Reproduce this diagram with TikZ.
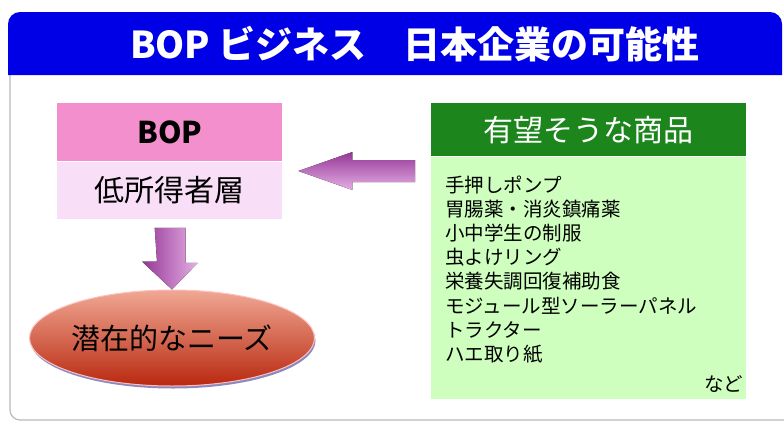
\documentclass[tikz,border=0pt]{standalone}
\usepackage{fontspec}
\setmainfont{Noto Sans CJK JP}
\usetikzlibrary{shapes.geometric,shadows}

\definecolor{headblue}{RGB}{0,0,230}
\definecolor{boppink}{RGB}{244,143,205}
\definecolor{lowpink}{RGB}{249,222,247}
\definecolor{goodsgreen}{RGB}{28,134,28}
\definecolor{goodsbody}{RGB}{206,255,190}
\definecolor{arrowdark}{RGB}{150,55,150}
\definecolor{arrowlight}{RGB}{228,175,228}
\definecolor{needlight}{RGB}{240,168,148}
\definecolor{needmid}{RGB}{222,82,42}
\definecolor{needdark}{RGB}{185,40,15}

\begin{document}
\begin{tikzpicture}[x=1pt,y=-1pt,
    box/.style={rectangle, inner sep=0pt, anchor=north west},
    bigtext/.style={font=\fontsize{30}{34}\selectfont}]
        \useasboundingbox (0,0) rectangle (784,423);
        % frame and title bar
        \draw [gray!55, line width=1.2pt, rounded corners=10] (10,75) -- (10,420) -- (784,420);
        \fill [headblue] (8,75) {[rounded corners=12] -- (8,12) -- (782,12)} -- (782,75) -- cycle;
        \node (title) at (415,44) [text=white, font=\fontsize{37}{42}\selectfont\bfseries]
              {BOP ビジネス　日本企業の可能性};

        % left side
        \node (bop) at (57,103) [box, fill=boppink, minimum width=225, minimum height=58,
              font=\fontsize{30}{34}\selectfont\bfseries] {BOP};
        \node (low) at (bop.south) [box, anchor=north, fill=lowpink, minimum width=225,
              minimum height=57, bigtext] {低所得者層};
        \node (need) at (172,338) [ellipse, inner sep=0pt, minimum width=250, minimum height=96,
              top color=needlight, middle color=needmid, bottom color=needdark,
              draw=white!75!red, line width=1pt,
              drop shadow={shadow xshift=1pt, shadow yshift=-2.5pt, fill=blue!30!gray, opacity=0.7},
              font=\fontsize{29}{33}\selectfont] {潜在的なニーズ};
        \fill [left color=arrowdark, right color=arrowlight]
              ([xshift=-15pt,yshift=-9pt]low.south) -- ++(31,0) -- ++(0,35) -- ++(12,0)
              -- (need.north) -- ++(-30,-28) -- ++(15,0) -- cycle;

        % right side
        \node (goods) at (431,103) [box, fill=goodsgreen, minimum width=315, minimum height=53,
              text=white, bigtext] {有望そうな商品};
        \node (list) at (goods.south) [box, anchor=north, fill=goodsbody, minimum width=315,
              minimum height=242] {};
        \node (items) at ([xshift=14pt,yshift=-19pt]list.north west) [box, align=left,
              font=\fontsize{19.5}{24.2}\selectfont]
              {手押しポンプ\\ 胃腸薬・消炎鎮痛薬\\ 小中学生の制服\\ 虫よけリング\\
               栄養失調回復補助食\\ モジュール型ソーラーパネル\\ トラクター\\ ハエ取り紙};
        \node (etc) at ([xshift=-3pt,yshift=6pt]list.south east) [anchor=south east, inner sep=0pt,
              font=\fontsize{19.5}{24}\selectfont] {など};
        \coordinate (tip) at ([xshift=16pt]bop.south east |- 0,171);
        \coordinate (tail) at ([xshift=-16pt]list.west |- tip);
        \fill [top color=arrowdark, bottom color=arrowlight]
              (tip) -- ++(54,-19) -- ++(0,8) -- ([yshift=11pt]tail) -- ([yshift=-11pt]tail)
              -- ([xshift=54pt,yshift=-11pt]tip) -- ++(0,8) -- cycle;
    \end{tikzpicture}
\end{document}
